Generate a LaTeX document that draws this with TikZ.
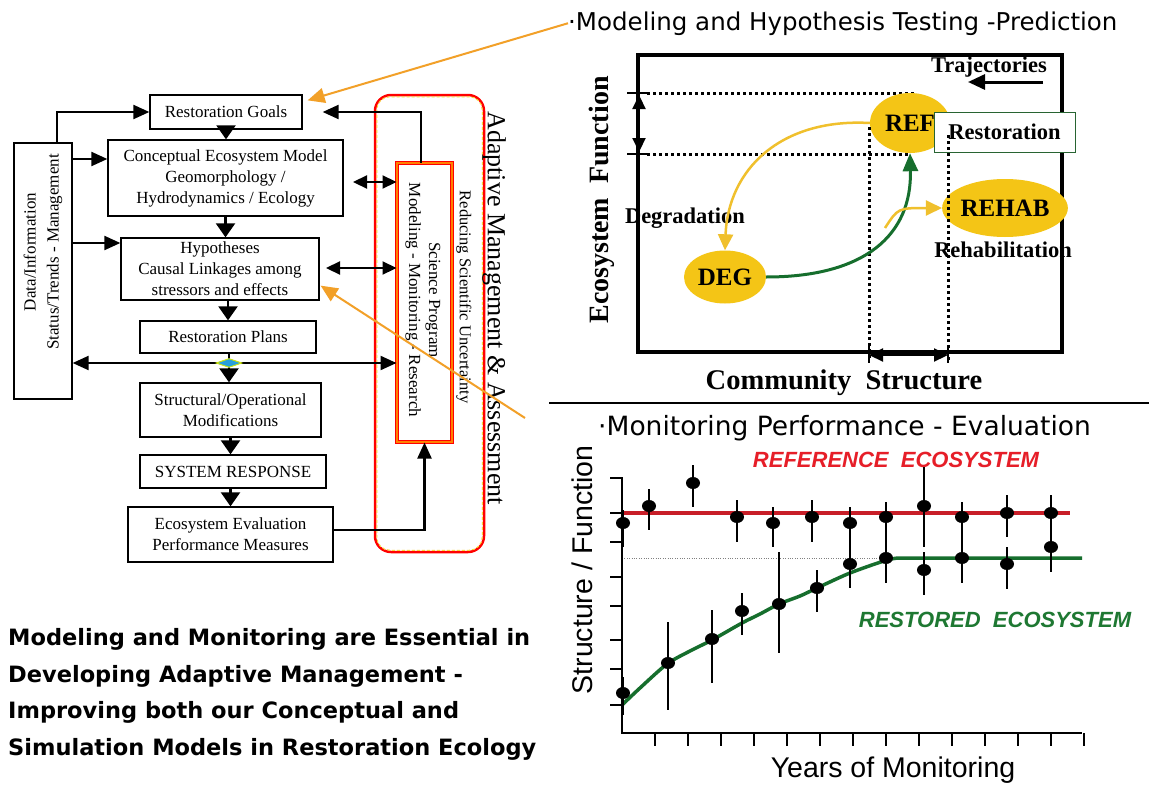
\documentclass[tikz,border=0pt]{standalone}
\usepackage{fontspec}
\setmainfont{Liberation Serif}
\newfontfamily\comicfont{DejaVu Sans}
\newfontfamily\arialfont{Liberation Sans}
\usetikzlibrary{arrows.meta,shapes.geometric}
\newcommand{\sz}[2]{\fontsize{#1}{#2}\selectfont}
\definecolor{blobyellow}{RGB}{244,197,22}
\definecolor{arrowyellow}{RGB}{240,192,45}
\definecolor{arroworange}{RGB}{242,160,40}
\definecolor{darkgreen}{RGB}{22,110,45}
\definecolor{restgreen}{RGB}{40,100,50}
\definecolor{refred}{RGB}{200,30,40}
\definecolor{labelred}{RGB}{230,30,40}
\definecolor{labelgreen}{RGB}{30,120,50}
\definecolor{junctionblue}{RGB}{40,160,220}
\definecolor{dashyellow}{RGB}{245,215,60}

\begin{document}
\begin{tikzpicture}[x=1pt,y=-1pt,
    box/.style={draw,line width=1.3pt,inner sep=0pt,align=center,font=\sz{17}{21}},
    arr/.style={line width=2.2pt,-{Triangle[length=16pt,width=14pt]}},
    varr/.style={line width=2.2pt,-{Triangle[length=14pt,width=19pt]}},
    darr/.style={line width=2.2pt,{Triangle[length=14pt,width=13pt]}-{Triangle[length=14pt,width=13pt]}},
    oarr/.style={draw=arroworange,line width=2pt,-{Triangle[length=17pt,width=15pt]}},
    yarr/.style={draw=arrowyellow,line width=2.5pt,-{Triangle[length=16pt,width=15pt]}},
    garr/.style={draw=darkgreen,line width=3pt,-{Triangle[length=18pt,width=15pt]}},
    junc/.style={diamond,aspect=3,fill=junctionblue,draw=yellow!80!green,line width=1pt,minimum width=26pt,minimum height=9pt,inner sep=0pt},
    blob/.style={ellipse,fill=blobyellow,inner sep=0pt,font=\bfseries\sz{25}{25}},
    lbl/.style={font=\bfseries\sz{22.5}{24}},
    dotline/.style={line width=3pt,dash pattern=on 3pt off 3pt},
    errbar/.style={line width=1.4pt}]
\fill[white] (0,0) rectangle (1149,787);
\useasboundingbox (0,0) rectangle (1149,787);

\node[box,minimum width=152pt,minimum height=34pt] (goals) at (226,112) {Restoration Goals};
\node[box,minimum width=235pt,minimum height=76pt] (cem) at (225.5,178) {Conceptual Ecosystem Model\\Geomorphology /\\Hydrodynamics / Ecology};
\node[box,minimum width=198pt,minimum height=62pt] (hyp) at (220,269) {Hypotheses\\Causal Linkages among\\stressors and effects};
\node[box,minimum width=176pt,minimum height=32pt] (plans) at (228,337) {Restoration Plans};
\node[box,minimum width=181pt,minimum height=54pt] (modif) at (230.5,410) {Structural/Operational\\Modifications};
\node[box,minimum width=186pt,minimum height=33pt] (resp) at (233,471.5) {SYSTEM RESPONSE};
\node[box,minimum width=205pt,minimum height=55pt] (evalbox) at (230.5,534.5) {Ecosystem Evaluation\\Performance Measures};
\node[box,minimum width=58pt,minimum height=256pt] (data) at (43,271) {};
\node[rotate=90,align=center,font=\sz{17}{23}] (datatxt) at (43,252) {Data/Information\\Status/Trends - Management};

\node[draw=red,line width=2.5pt,rounded corners=16pt,minimum width=109pt,minimum height=457pt] (adapt) at (429.5,323.5) {};
\draw[dashyellow,line width=1pt,dash pattern=on 3pt off 2pt,rounded corners=13pt] ([shift={(3,3)}]adapt.north west) rectangle ([shift={(-3,-3)}]adapt.south east);
\node[draw=red,double=orange,double distance=1.6pt,line width=1pt,fill=white,minimum width=55pt,minimum height=279pt] (sci) at (424.5,302.5) {};
\node[rotate=-90,align=center,font=\sz{17}{20}] (scitxt) at (423,300) {Science Program\\Modeling - Monitoring - Research};
\node[rotate=-90,font=\sz{16.5}{20}] (reduce) at (464,297) {Reducing Scientific Uncertainty};
\node[rotate=-90,font=\sz{26}{30}] (amtitle) at (494,308) {Adaptive Management \& Assessment};

\coordinate (jn) at (229,363);
\draw[varr] (goals.south) -- (goals.south |- cem.north);
\draw[varr] (cem.south) -- (cem.south |- hyp.north);
\draw[varr] (plans.north |- hyp.south) -- (plans.north);
\draw[line width=2.2pt] (plans.south -| jn) -- (jn);
\draw[varr] (jn) -- (jn |- modif.north);
\draw[varr] (modif.south) -- (modif.south |- resp.north);
\draw[varr] (resp.south -| modif.south) -- (evalbox.north -| modif.south);
\draw[arr] (jn) -- (data.east |- jn);
\draw[arr] (jn) -- (sci.west |- jn);
\node[junc] (junc) at (jn) {};

\draw[arr] ([xshift=14pt]data.north) |- (goals.west);
\draw[arr] (data.east |- 0,159) -- (cem.west |- 0,159);
\draw[arr] (data.east |- 0,243) -- (hyp.west |- 0,243);
\draw[arr] ([xshift=-3.5pt]sci.north) |- ([xshift=20pt]goals.east);
\draw[darr] (353,182) -- (sci.west |- 0,182);
\draw[darr] (326,268) -- (sci.west |- 0,268);
\draw[arr] (evalbox.east |- 0,530) -| (sci.south);

\node[anchor=base west,inner sep=0pt,font=\comicfont\sz{24.5}{26}] (title1) at (568,30) {·Modeling and Hypothesis Testing -Prediction};
\node[draw,line width=3.5pt,minimum width=424pt,minimum height=297pt] (plot1) at (850,203.5) {};
\draw[dotline] (647,93) -- (915,93);
\draw[dotline] (647,154) -- (910,154);
\draw[line width=2pt] (627,93) -- (647,93);
\draw[line width=2pt] (627,154) -- (647,154);
\draw[darr] (639,95) -- (639,152);
\node[blob,minimum width=80pt,minimum height=60pt] (ref) at (910,123) {REF};
\node[blob,minimum width=82pt,minimum height=53pt] (deg) at (725,277) {DEG};
\node[blob,minimum width=85pt,minimum height=58pt] (rehab) at (1005,208) {REHAB};
\node[draw=restgreen,line width=1pt,fill=white,minimum width=141pt,minimum height=40pt,lbl] (restbox) at (1004.5,132) {Restoration};
\draw[dotline] (869,127) -- (869,360);
\draw[dotline] (948,135) -- (948,360);
\draw[line width=2pt] (869,345) -- (869,363);
\draw[line width=2pt] (948,345) -- (948,363);
\draw[darr] (869,355) -- (948,355);
\node[lbl] (traj) at (989,67) {Trajectories};
\coordinate (trajR) at (1043,82);
\coordinate (trajL) at (968,82);
\draw[line width=3pt,-{Triangle[length=17pt,width=15pt]}] (trajR) -- (trajL);
\node[lbl] (degtxt) at (685,218) {Degradation};
\node[lbl] (rehabtxt) at (1003,250) {Rehabilitation};
\draw[yarr] (ref.west) .. controls (780,118) and (728,170) .. (deg.north);
\draw[garr] (deg.east) .. controls (865,277) and (912,235) .. (ref.south);
\coordinate (rehabfrom) at (885,228);
\draw[yarr] (rehabfrom) .. controls (898,208) .. (rehab.west);
\node[rotate=90,font=\bfseries\sz{28}{30}] (yaxis1) at (602,200) {Ecosystem\ \ Function};
\node[font=\bfseries\sz{28.5}{30}] (xaxis1) at (844,383) {Community\ \ Structure};

\draw[line width=2.5pt] (549,403) -- (1149,403);

\node[anchor=base west,inner sep=0pt,font=\comicfont\sz{26.5}{28}] (title2) at (598,435) {·Monitoring Performance - Evaluation};
\node[font=\arialfont\bfseries\itshape\sz{22}{24},text=labelred] (reflbl) at (896,460) {REFERENCE\ \ ECOSYSTEM};
\node[font=\arialfont\bfseries\itshape\sz{22}{24},text=labelgreen] (restlbl) at (995,620) {RESTORED\ \ ECOSYSTEM};
\node[rotate=90,font=\arialfont\sz{28.5}{30}] (yaxis2) at (582,570) {Structure / Function};
\node[font=\arialfont\sz{28.5}{30}] (xaxis2) at (893,770) {Years of Monitoring};
\draw[thin,gray,dotted] (622,558) -- (900,558);
\draw[refred,line width=4pt] (622,513) -- (1070,513);
\draw[darkgreen,line width=3.5pt] plot[smooth] coordinates {(622,705) (640,688) (667,664) (690,651) (712,640) (742,623) (760,614) (779,604) (800,596) (817,588) (850,573) (887,560) (900,558)} -- (1082,558);
\draw[line width=2.5pt] (622,477) -- (622,733) -- (1082,733);
\foreach \ty in {478,513,542,577,606,640,669,705}
  \draw[line width=1.5pt] (610,\ty) -- (622,\ty);
\foreach \k in {1,...,14}
  \draw[line width=1.5pt] (622+33*\k,733) -- (622+33*\k,746);
\foreach \px/\lo/\hi in {623/510/547, 649/489/530, 693/465/507, 737/500/542, 773/507/547, 812/500/542, 850/507/588, 886/502/583, 924/467/547, 962/502/583, 1007/495/537, 1051/495/572, 623/677/715, 668/622/710, 712/610/683, 742/593/635, 779/552/653, 817/570/612, 924/552/595, 1007/547/589}
  \draw[errbar] (\px,\lo) -- (\px,\hi);
\foreach \px/\py in {623/523, 649/506, 693/483, 737/517, 773/523, 812/517, 850/523, 850/564, 886/517, 886/558, 924/506, 924/570, 962/517, 962/558, 1007/513, 1007/564, 1051/513, 1051/547, 623/693, 668/663, 712/639, 742/611, 779/604, 817/588}
  \fill (\px,\py) ellipse (7pt and 6pt);

\node[anchor=north west,align=left,inner sep=0pt,font=\comicfont\bfseries\sz{22.5}{36.7}] (summary) at (8,628) {Modeling and Monitoring are Essential in\\Developing Adaptive Management -\\Improving both our Conceptual and\\Simulation Models in Restoration Ecology};

\draw[oarr] (title1.west) -- ([shift={(5,6)}]goals.north east);
\coordinate (ostart) at (525,418);
\draw[oarr] (ostart) -- ([shift={(1,-15)}]hyp.south east);
\end{tikzpicture}
\end{document}
